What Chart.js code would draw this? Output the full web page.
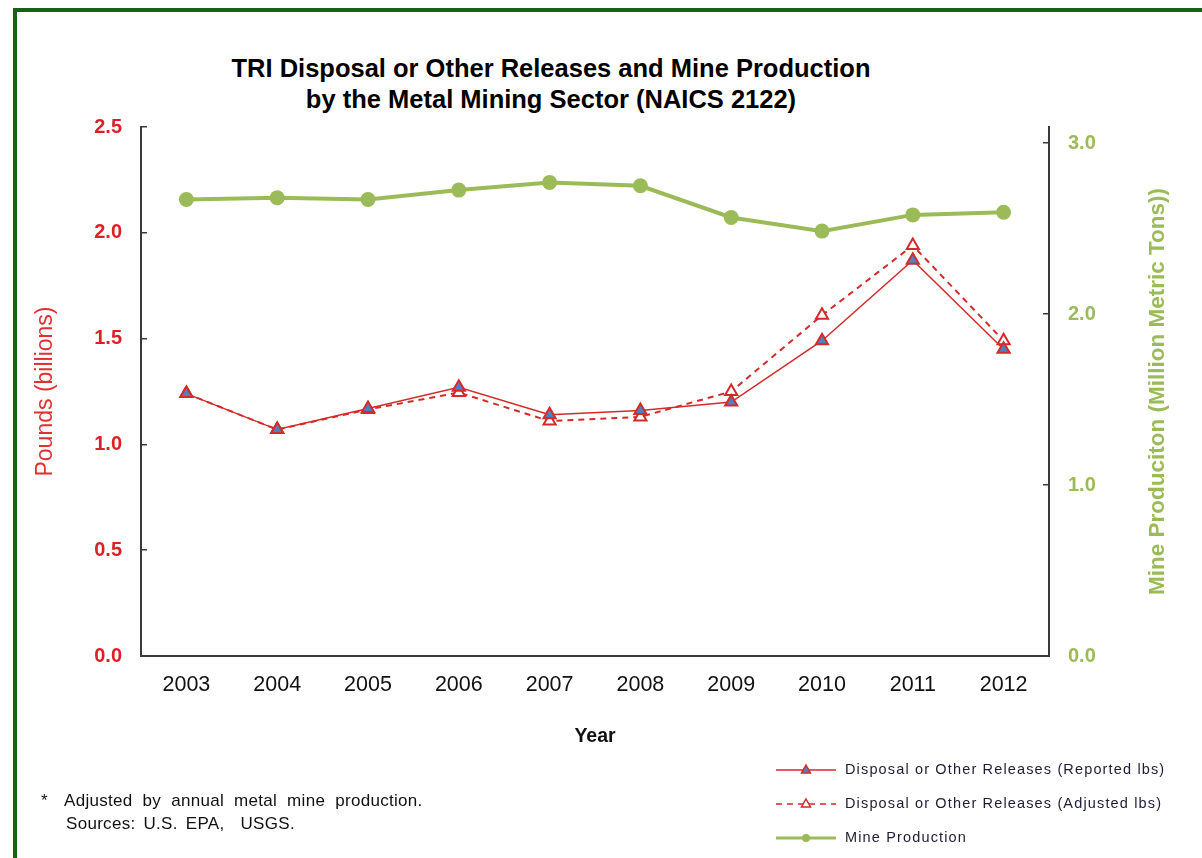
<!DOCTYPE html>
<html>
<head>
<meta charset="utf-8">
<script src="https://cdn.jsdelivr.net/npm/chart.js@4.4.1/dist/chart.umd.min.js"></script>
<style>
  html, body { margin: 0; padding: 0; background: #fff; overflow: hidden; }
  body { width: 1202px; height: 858px; position: relative; font-family: "Liberation Sans", Arial, sans-serif; }
  #frame { position: absolute; left: 13px; top: 8px; width: 1400px; height: 1000px; border: 4px solid #136419; box-sizing: border-box; }
  #wrap { position: absolute; left: 0; top: 0; width: 1202px; height: 858px; }
  #title { position: absolute; left: 151px; width: 800px; top: 53px; text-align: center; font-weight: bold; font-size: 25.5px; line-height: 31px; color: #000; }
  .note { position: absolute; font-size: 17px; line-height: 23px; color: #111; word-spacing: 5px; letter-spacing: 0.3px; white-space: nowrap; }
</style>
</head>
<body>
<div id="frame"></div>
<div id="title">TRI Disposal or Other Releases and Mine Production<br>by the Metal Mining Sector (NAICS 2122)</div>
<div id="wrap"><canvas id="c" width="1202" height="858"></canvas></div>
<div class="note" style="left:41px; top:789px;">*</div>
<div class="note" style="left:64px; top:789px;">Adjusted by annual metal mine production.</div>
<div class="note" style="left:66px; top:812px; word-spacing: 3px;">Sources: U.S. EPA,&nbsp; USGS.</div>
<script>
const years = ['2003', '2004', '2005', '2006', '2007', '2008', '2009', '2010', '2011', '2012'];
const reported = [1.24, 1.07, 1.17, 1.27, 1.14, 1.16, 1.20, 1.49, 1.87, 1.45];
const adjusted = [1.24, 1.07, 1.165, 1.245, 1.11, 1.13, 1.25, 1.61, 1.94, 1.49];
const mineProd = [2.67, 2.68, 2.67, 2.725, 2.77, 2.75, 2.565, 2.485, 2.58, 2.595];
const leftTicks = [0, 0.5, 1.0, 1.5, 2.0, 2.5];
const rightTicks = [0, 1, 2, 3];
const rightTitle = 'Mine Produciton (Million Metric Tons))';

const RED = '#d42a2a';
const GREEN = '#9bbb59';
const BLUE = '#4f81bd';
const FONT = '"Liberation Sans", Arial, sans-serif';

// right axis title reads bottom-to-top, so draw it here
const rightTitlePlugin = {
  id: 'rightTitle',
  afterDraw(chart) {
    const ctx = chart.ctx;
    const a = chart.chartArea;
    ctx.save();
    ctx.translate(1158, (a.top + a.bottom) / 2);
    ctx.rotate(-Math.PI / 2);
    ctx.fillStyle = GREEN;
    ctx.font = 'bold 22.5px ' + FONT;
    ctx.textAlign = 'center';
    ctx.textBaseline = 'middle';
    ctx.fillText(rightTitle, 0, 0);
    ctx.restore();
  }
};

// legend drawn at bottom right from the datasets
const legendPlugin = {
  id: 'sideLegend',
  afterDraw(chart) {
    const ctx = chart.ctx;
    const x0 = 776, x1 = 836, tx = 845;
    const rows = [770, 804, 838];
    chart.data.datasets.forEach((ds, i) => {
      const y = rows[i];
      ctx.save();
      ctx.strokeStyle = ds.borderColor;
      ctx.lineWidth = ds.legendLineWidth;
      ctx.setLineDash(ds.borderDash || []);
      ctx.beginPath();
      ctx.moveTo(x0, y);
      ctx.lineTo(x1, y);
      ctx.stroke();
      ctx.setLineDash([]);
      const mx = (x0 + x1) / 2;
      ctx.fillStyle = ds.pointBackgroundColor;
      ctx.strokeStyle = ds.pointBorderColor;
      ctx.lineWidth = 1.5;
      if (ds.pointStyle === 'triangle') {
        ctx.beginPath();
        ctx.moveTo(mx, y - 5);
        ctx.lineTo(mx + 4.5, y + 3);
        ctx.lineTo(mx - 4.5, y + 3);
        ctx.closePath();
        ctx.fill();
        ctx.stroke();
      } else {
        ctx.beginPath();
        ctx.arc(mx, y, 4, 0, Math.PI * 2);
        ctx.fill();
      }
      ctx.fillStyle = '#1d1d33';
      ctx.font = '14.5px ' + FONT;
      ctx.letterSpacing = '1.15px';
      ctx.textBaseline = 'middle';
      ctx.textAlign = 'left';
      ctx.fillText(ds.label, tx, y);
      ctx.restore();
    });
  }
};

new Chart(document.getElementById('c'), {
  type: 'line',
  data: {
    labels: years,
    datasets: [
      {
        label: 'Disposal or Other Releases (Reported lbs)',
        data: reported,
        yAxisID: 'y',
        borderColor: RED,
        borderWidth: 1.5,
        legendLineWidth: 1.5,
        pointStyle: 'triangle',
        pointRadius: 7,
        pointBackgroundColor: BLUE,
        pointBorderColor: RED,
        pointBorderWidth: 2,
        tension: 0,
        order: 2
      },
      {
        label: 'Disposal or Other Releases (Adjusted lbs)',
        data: adjusted,
        yAxisID: 'y',
        borderColor: RED,
        borderWidth: 2,
        legendLineWidth: 1.5,
        borderDash: [6, 5],
        pointStyle: 'triangle',
        pointRadius: 7,
        pointBackgroundColor: '#ffffff',
        pointBorderColor: RED,
        pointBorderWidth: 2,
        tension: 0,
        order: 3
      },
      {
        label: 'Mine Production',
        data: mineProd,
        yAxisID: 'y2',
        borderColor: GREEN,
        borderWidth: 4,
        legendLineWidth: 3,
        pointStyle: 'circle',
        pointRadius: 7.5,
        pointBackgroundColor: GREEN,
        pointBorderColor: GREEN,
        pointBorderWidth: 0,
        tension: 0,
        order: 1
      }
    ]
  },
  options: {
    responsive: false,
    animation: false,
    layout: { padding: { top: 127, bottom: 102, left: 0, right: 0 } },
    plugins: {
      legend: { display: false },
      tooltip: { enabled: false }
    },
    scales: {
      x: {
        offset: true,
        afterFit(scale) { scale.height = 100; },
        grid: { display: false, drawTicks: false },
        border: { display: true, color: '#3a3a3a', width: 2 },
        ticks: { color: '#111', font: { size: 21.5, family: FONT }, padding: 16 },
        title: { display: true, text: 'Year', color: '#111', font: { size: 19.5, weight: 'bold', family: FONT }, padding: { top: 0, bottom: 8 } }
      },
      y: {
        position: 'left',
        min: 0,
        max: 2.5,
        afterFit(scale) { scale.width = 141; },
        afterBuildTicks(scale) { scale.ticks = leftTicks.map(v => ({ value: v })); },
        grid: { drawOnChartArea: false, drawTicks: true, tickLength: -6, color: '#3a3a3a', lineWidth: 1.5 },
        border: { display: true, color: '#3a3a3a', width: 2 },
        ticks: { color: '#dd1f26', padding: 25, font: { size: 20, weight: 'bold', family: FONT }, callback: v => v.toFixed(1) },
        title: { display: true, text: 'Pounds (billions)', color: '#e03030', font: { size: 23, family: FONT }, padding: { top: 32, bottom: 0 } }
      },
      y2: {
        position: 'right',
        min: 0,
        max: 3.094,
        afterFit(scale) { scale.width = 153; },
        afterBuildTicks(scale) { scale.ticks = rightTicks.map(v => ({ value: v })); },
        grid: { drawOnChartArea: false, drawTicks: true, tickLength: -6, color: '#3a3a3a', lineWidth: 1.5 },
        border: { display: true, color: '#3a3a3a', width: 2 },
        ticks: { color: GREEN, padding: 25, font: { size: 20, weight: 'bold', family: FONT }, callback: v => v.toFixed(1) },
        title: { display: false }
      }
    }
  },
  plugins: [legendPlugin, rightTitlePlugin]
});
</script>
</body>
</html>
